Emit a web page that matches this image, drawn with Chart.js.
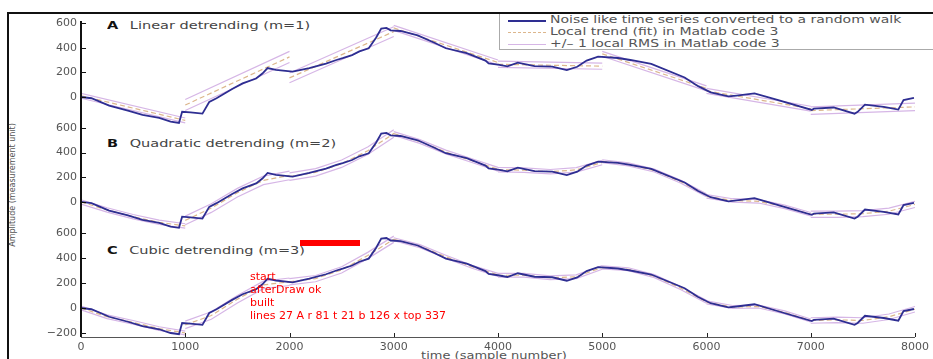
<!DOCTYPE html>
<html>
<head>
<meta charset="utf-8">
<script src="https://cdn.jsdelivr.net/npm/chart.js@4.4.1/dist/chart.umd.min.js"></script>
<style>
  html, body { margin: 0; padding: 0; background: #fff; }
  #wrap { position: relative; width: 933px; height: 359px; overflow: hidden; font-family: 'DejaVu Sans', sans-serif; color: #555; }
  #chart { position: absolute; left: 0; top: 0; z-index: 2; }
  .axl { position: absolute; z-index: 3; }
  .legend { position: absolute; z-index: 1; left: 499px; top: 13px; width: 460px; height: 35px; border: 1px solid #aaa; background: #fff; }
  .row { position: absolute; left: 0; width: 100%; height: 12px; }
  .swatch { position: absolute; left: 8px; top: 6px; width: 38px; height: 0; }
  .txt { position: absolute; left: 50px; top: 0; font-size: 10px; line-height: 12px; white-space: nowrap; transform: scaleX(1.4); transform-origin: 0 50%; }
  .plabel { position: absolute; z-index: 1; left: 107px; font-size: 10px; line-height: 14px; white-space: nowrap; transform: scaleX(1.45); transform-origin: 0 50%; color: #444; }
  .plabel b { color: #111; margin-right: 8px; }
  .ytitle { position: absolute; z-index: 1; left: 12px; top: 185px; font-size: 8px; white-space: nowrap; transform: translate(-50%, -50%) rotate(-90deg); }
  .xtitle { position: absolute; z-index: 1; left: 494px; top: 350px; font-size: 10px; white-space: nowrap; transform: translateX(-50%) scaleX(1.3); }
  #dbg { position: absolute; z-index: 5; left: 250px; top: 270px; font-size: 11px; color: red; white-space: pre; }
</style>
</head>
<body>
<div id="wrap">
  <div class="legend">
    <div class="row" style="top:0px"><div class="swatch" style="border-top:2px solid #2e2e92"></div><span class="txt">Noise like time series converted to a random walk</span></div>
    <div class="row" style="top:12px"><div class="swatch" style="border-top:1px dashed #dcb68c"></div><span class="txt">Local trend (fit) in Matlab code 3</span></div>
    <div class="row" style="top:24px"><div class="swatch" style="border-top:1px solid #d6b6e6"></div><span class="txt">+/– 1 local RMS in Matlab code 3</span></div>
  </div>
  <div class="plabel" style="top:19px"><b>A</b>Linear detrending (m=1)</div>
  <div class="plabel" style="top:137px"><b>B</b>Quadratic detrending (m=2)</div>
  <div class="plabel" style="top:244px"><b>C</b>Cubic detrending (m=3)</div>
  <div class="ytitle">Amplitude (measurement unit)</div>
  <div class="xtitle">time (sample number)</div>
  <canvas id="chart" width="933" height="359"></canvas>
  <div id="dbg">start</div>
</div>
<script>
const dbg = document.getElementById('dbg');
const log = (m) => { dbg.textContent += '\n' + m; };
window.addEventListener('error', (e) => log('ERR ' + e.message));

// random walk (same series in all three panels)
const walkX = [0, 100, 270, 450, 590, 750, 860, 940, 970, 1050,
  1165, 1230, 1300, 1450, 1550, 1680, 1740, 1790, 1870, 2030,
  2190, 2350, 2450, 2510, 2600, 2670, 2760, 2830, 2880, 2930,
  2970, 3065, 3230, 3390, 3500, 3700, 3880, 3910, 4000, 4090,
  4190, 4350, 4520, 4660, 4760, 4850, 4960, 5150, 5270, 5470,
  5790, 5920, 6040, 6210, 6290, 6460, 6680, 7010, 7030, 7220,
  7420, 7450, 7520, 7700, 7840, 7890, 7990];
const walkY = [0, -10, -70, -110, -145, -170, -200, -210, -120, -125,
  -135, -40, -10, 65, 110, 150, 190, 235, 220, 205,
  235, 270, 300, 315, 340, 370, 395, 480, 555, 560,
  540, 535, 500, 440, 395, 355, 295, 272, 262, 248,
  278, 250, 246, 218, 245, 295, 327, 316, 300, 268,
  158, 88, 38, 5, 12, 30, -24, -105, -95, -85,
  -135, -120, -62, -80, -102, -25, -8];

// fit windows of 1000 samples
const winStart = [0, 1000, 2000, 3000, 4000, 5000, 6000, 7000];
const linSteps = [0, 1000];
const polySteps = [0, 250, 500, 750, 1000];

const trendA = [[10, -190], [-65, 325], [155, 530], [560, 280], [265, 250], [350, 70], [50, -95], [-110, -80]];
const trendB = [[0, -65, -120, -165, -195], [-150, -50, 75, 175, 215], [205, 240, 310, 415, 555], [555, 490, 405, 335, 265],
  [262, 258, 245, 260, 320], [330, 305, 255, 165, 55], [45, 12, 5, -40, -100], [-100, -100, -95, -75, -20]];
const trendC = [[0, -70, -115, -165, -200], [-135, -60, 70, 185, 210], [210, 235, 305, 420, 550], [550, 495, 410, 330, 265],
  [262, 262, 242, 250, 325], [325, 310, 255, 160, 50], [45, 8, 12, -35, -100], [-100, -95, -100, -70, -10]];

const rmsA = [20, 45, 40, 20, 25, 20, 20, 30];
const rmsB = [18, 35, 30, 15, 18, 12, 14, 25];
const rmsC = [15, 30, 25, 12, 15, 12, 12, 22];

const xTicks = [0, 1000, 2000, 3000, 4000, 5000, 6000, 7000, 8000];
const yTicksAB = [0, 200, 400, 600];
const yTicksC = [-200, 0, 200, 400, 600];

const walkColor = '#2e2e92';
const trendColor = '#dcb68c';
const rmsColor = '#d6b6e6';

const walkPts = walkX.map((x, i) => ({ x, y: walkY[i] }));

function windowPts(trend, steps, rms, sign) {
  const pts = [];
  trend.forEach((win, w) => {
    win.forEach((v, k) => pts.push({ x: winStart[w] + steps[k], y: v + sign * rms[w] }));
    pts.push({ x: winStart[w] + 1000, y: null });
  });
  return pts;
}

function panelSets(axis, trend, steps, rms) {
  return [
    { data: walkPts, yAxisID: axis, borderColor: walkColor, borderWidth: 1.8, order: 0 },
    { data: windowPts(trend, steps, rms, 0), yAxisID: axis, borderColor: trendColor, borderWidth: 1.2, borderDash: [5, 3], order: 1 },
    { data: windowPts(trend, steps, rms, 1), yAxisID: axis, borderColor: rmsColor, borderWidth: 1.2, order: 2 },
    { data: windowPts(trend, steps, rms, -1), yAxisID: axis, borderColor: rmsColor, borderWidth: 1.2, order: 2 },
  ];
}

const fmt = (v) => (v < 0 ? '\u2212' + Math.abs(v) : String(v));

function yAxis(min, max, ticks, weight) {
  return {
    type: 'linear',
    position: 'left',
    stack: 'panels',
    stackWeight: weight,
    min,
    max,
    afterBuildTicks: (s) => { s.ticks = ticks.map((v) => ({ value: v })); },
    afterFit: (s) => { s.width = 73; },
    border: { display: false },
    grid: { display: false, drawTicks: false },
    ticks: { color: '#555', font: { family: 'DejaVu Sans', size: 11 }, padding: 4, autoSkip: false, callback: fmt },
  };
}

// outer figure frame
const framePlugin = {
  id: 'frame',
  afterDraw(chart) {
    const ctx = chart.ctx;
    ctx.save();
    ctx.strokeStyle = '#111';
    ctx.lineWidth = 2;
    ctx.beginPath();
    ctx.moveTo(8, chart.height);
    ctx.lineTo(8, 13);
    ctx.lineTo(chart.width, 13);
    ctx.stroke();
    ctx.restore();
    log('afterDraw ok');
  },
};

let chart = null;
try {
  chart = new Chart(document.getElementById('chart'), {
    type: 'line',
    data: {
      datasets: [
        ...panelSets('yA', trendA, linSteps, rmsA),
        ...panelSets('yB', trendB, polySteps, rmsB),
        ...panelSets('yC', trendC, polySteps, rmsC),
      ],
    },
    options: {
      responsive: false,
      animation: false,
      events: [],
      spanGaps: false,
      layout: { padding: { left: 8, top: 21, right: 18, bottom: 0 } },
      elements: { point: { radius: 0 }, line: { tension: 0 } },
      plugins: { legend: { display: false }, tooltip: { enabled: false } },
      scales: {
        x: {
          type: 'linear',
          position: 'bottom',
          min: 0,
          max: 8000,
          afterBuildTicks: (s) => { s.ticks = xTicks.map((v) => ({ value: v })); },
          afterFit: (s) => { s.height = 22; },
          border: { display: false },
          grid: { display: false, drawTicks: false },
          ticks: { color: '#555', font: { family: 'DejaVu Sans', size: 11 }, padding: 4, autoSkip: false, maxRotation: 0, callback: (v) => String(v) },
        },
        yC: yAxis(-232, 608, yTicksC, 105),
        yB: yAxis(-244, 616, yTicksAB, 106),
        yA: yAxis(-235, 616, yTicksAB, 105),
      },
    },
    plugins: [framePlugin],
  });
  log('built');
} catch (e) {
  log('build error ' + e.message);
}

// matlab style axis lines with inward ticks, placed from the chart's scales
const host = document.getElementById('wrap');
let count = 0;
function addLine(left, top, width, height, color) {
  const d = document.createElement('div');
  d.className = 'axl';
  d.style.left = left + 'px';
  d.style.top = top + 'px';
  d.style.width = width + 'px';
  d.style.height = height + 'px';
  d.style.background = color;
  host.appendChild(d);
  count++;
}

addLine(300, 240, 60, 6, '#f00');
try {
  ['yA', 'yB', 'yC'].forEach((id) => {
    const s = chart.scales[id];
    addLine(Math.round(s.right) - 1, Math.round(s.top), 2, Math.round(s.bottom - s.top), '#111');
    s.ticks.forEach((t) => {
      addLine(Math.round(s.right), Math.round(s.getPixelForValue(t.value)), 5, 1, '#111');
    });
  });
  const sx = chart.scales.x;
  addLine(Math.round(sx.left), Math.round(sx.top), Math.round(sx.right - sx.left), 1, '#555');
  sx.ticks.forEach((t) => {
    addLine(Math.round(sx.getPixelForValue(t.value)), Math.round(sx.top) - 4, 1, 4, '#222');
  });
  const sA = chart.scales.yA;
  log('lines ' + count + ' A r ' + sA.right + ' t ' + sA.top + ' b ' + sA.bottom + ' x top ' + sx.top);
} catch (e) {
  log('axes error ' + e.message);
}
</script>
</body>
</html>
